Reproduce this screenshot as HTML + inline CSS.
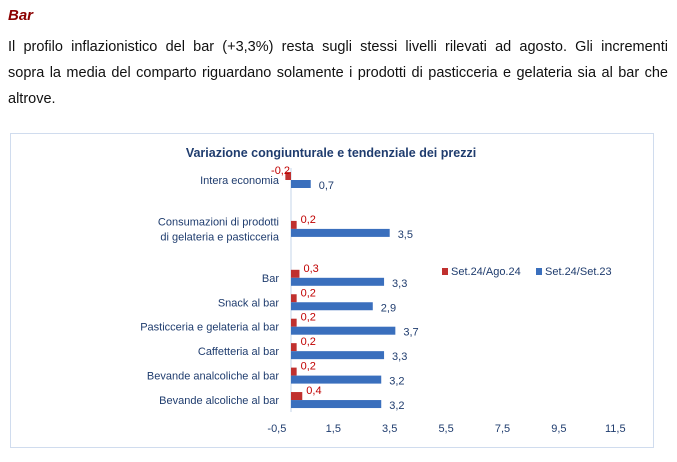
<!DOCTYPE html>
<html><head><meta charset="utf-8"><style>
body{margin:0;width:677px;height:462px;background:#fff;font-family:"Liberation Sans",sans-serif;overflow:hidden;position:relative}
.h{position:absolute;left:8px;top:7px;font-size:15px;font-weight:bold;font-style:italic;color:#8b0000}
.ln{position:absolute;left:8px;width:660px;font-size:14.5px;color:#111;text-align:justify;text-align-last:justify;white-space:nowrap}
.box{position:absolute;left:10px;top:133px;width:644px;height:315px;border:1px solid #d0dcee;box-sizing:border-box}
svg text{font-family:"Liberation Sans",sans-serif}
</style></head><body>
<div class="h">Bar</div>
<div class="ln" style="top:39px">Il profilo inflazionistico del bar (+3,3%) resta sugli stessi livelli rilevati ad agosto. Gli incrementi</div>
<div class="ln" style="top:65px">sopra la media del comparto riguardano solamente i prodotti di pasticceria e gelateria sia al bar che</div>
<div class="ln" style="top:91px;text-align-last:left">altrove.</div>
<div class="box"></div>
<svg id="c" width="677" height="462" style="position:absolute;left:0;top:0">
<text x="331" y="157" text-anchor="middle" font-size="12.5" font-weight="bold" fill="#1f3c6e">Variazione congiunturale e tendenziale dei prezzi</text>
</svg>
<script>
const categories=[["Intera economia"],[],["Consumazioni di prodotti","di gelateria e pasticceria"],[],["Bar"],["Snack al bar"],["Pasticceria e gelateria al bar"],["Caffetteria al bar"],["Bevande analcoliche al bar"],["Bevande alcoliche al bar"]];
const seriesMonthly=[-0.2,null,0.2,null,0.3,0.2,0.2,0.2,0.2,0.4];
const seriesYearly=[0.7,null,3.5,null,3.3,2.9,3.7,3.3,3.2,3.2];
const ticks=[-0.5,1.5,3.5,5.5,7.5,9.5,11.5];
const svg=document.getElementById('c');const NS='http://www.w3.org/2000/svg';
const x=v=>291+(v)*28.2;
const y=i=>180+i*24.45;
function mk(t,a,txt){const e=document.createElementNS(NS,t);for(const k in a)e.setAttribute(k,a[k]);if(txt!=null)e.textContent=txt;svg.appendChild(e);return e;}
const fmt=v=>String(v).replace('.',',');
let ax=mk('line',{x1:x(0),x2:x(0),y1:168,y2:412,stroke:'#c5d5ea','stroke-width':1});

ticks.forEach(t=>{const e=mk('text',{x:x(t),y:432,'text-anchor':'middle','font-size':11,fill:'#1f3c6e'},fmt(t));
});
categories.forEach((c,i)=>{
 c.forEach((l,j)=>{const e=mk('text',{x:279,y:y(i)+4+(c.length>1?(j-0.5)*15:0),'text-anchor':'end','font-size':11,fill:'#1f3c6e'},l);
 });
 const m=seriesMonthly[i];
 if(m!=null){const r=mk('rect',{x:Math.min(x(0),x(m)),y:y(i)-8,width:Math.abs(x(m)-x(0)),height:8,fill:'#c0302e'});
 
 const t=mk('text',{x:m<0?x(m)+4:x(m)+4,y:y(i)-6,'text-anchor':m<0?'end':'start','font-size':11,fill:'#c00000'},fmt(m));
 if(m<0)t.setAttribute('x',x(0)-1);
 if(m>=0)t.setAttribute('x',Math.max(x(m),x(0.15))+4);
 }
 const v=seriesYearly[i];
 if(v!=null){const r=mk('rect',{x:x(0),y:y(i),width:x(v)-x(0),height:8,fill:'#3a6fbd'});
 
 const t=mk('text',{x:x(v)+8,y:y(i)+9,'font-size':11,fill:'#1f3c6e'},fmt(v));
 }
});
let l1=mk('rect',{x:442,y:268,width:6,height:7,fill:'#c0302e'});
let t1=mk('text',{x:451,y:275,'font-size':11,fill:'#1f3c6e'},'Set.24/Ago.24');
let l2=mk('rect',{x:536,y:268,width:6,height:7,fill:'#3a6fbd'});
let t2=mk('text',{x:545,y:275,'font-size':11,fill:'#1f3c6e'},'Set.24/Set.23');
</script>
</body></html>
